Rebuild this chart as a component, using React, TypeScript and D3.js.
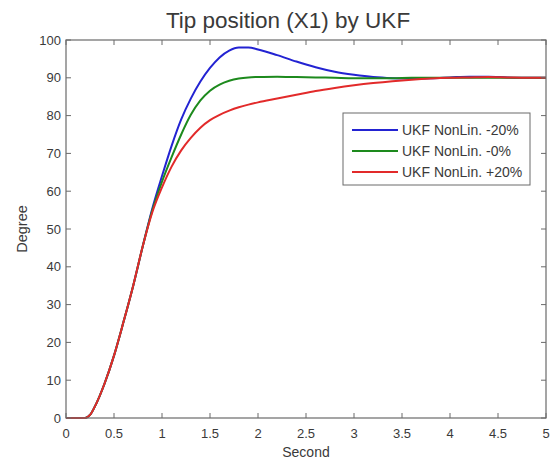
import React from "react";
import * as d3 from "d3";

const times = [0, 0.1, 0.2, 0.25, 0.3, 0.4, 0.5, 0.6, 0.7, 0.8, 0.9, 1.0, 1.1, 1.2, 1.3, 1.4, 1.5, 1.6, 1.7, 1.8, 1.9, 2.0, 2.2, 2.4, 2.6, 2.8, 3.0, 3.2, 3.4, 3.6, 3.8, 4.0, 4.2, 4.4, 4.6, 4.8, 5.0];

const blueMinus20 = [0, 0, 0, 0.8, 3, 9, 16.5, 25.5, 35, 45.5, 55.5, 64, 72, 79, 84.5, 89, 92.6, 95.4, 97.2, 98.0, 98.0, 97.5, 96.0, 94.3, 92.8, 91.6, 90.8, 90.2, 89.9, 89.8, 89.9, 90.1, 90.3, 90.3, 90.1, 90.0, 90.0];
const green0 = [0, 0, 0, 0.8, 3, 9, 16.5, 25.5, 35, 45.5, 55, 62.5, 69, 75, 80.2, 84, 86.6, 88.2, 89.2, 89.8, 90.1, 90.2, 90.3, 90.2, 90.1, 90.0, 89.9, 89.9, 89.9, 90.0, 90.0, 90.0, 90.0, 90.0, 90.0, 90.0, 90.0];
const redPlus20 = [0, 0, 0, 0.8, 3, 9, 16.5, 25.5, 35, 45.5, 54.5, 61, 66.5, 70.8, 74.1, 76.8, 78.8, 80.2, 81.3, 82.2, 82.9, 83.5, 84.5, 85.5, 86.5, 87.3, 88.0, 88.6, 89.1, 89.5, 89.8, 90.0, 90.1, 90.2, 90.1, 90.0, 90.0];

const xTicks = [0, 0.5, 1, 1.5, 2, 2.5, 3, 3.5, 4, 4.5, 5];
const yTicks = [0, 10, 20, 30, 40, 50, 60, 70, 80, 90, 100];

const seriesNames = ["UKF NonLin. -20%", "UKF NonLin. -0%", "UKF NonLin. +20%"];
const seriesColors = ["#2323d2", "#1d8a1d", "#e22a2a"];
const seriesValues = [blueMinus20, green0, redPlus20];

const titleText = "Tip position (X1) by UKF";
const xLabel = "Second";
const yLabel = "Degree";

export default function App() {
  const W = 556, H = 465;
  const left = 66, right = 546, top = 40, bottom = 418;
  const x = d3.scaleLinear().domain([0, 5]).range([left, right]);
  const y = d3.scaleLinear().domain([0, 100]).range([bottom, top]);
  const line = d3.line<number>()
    .x((_, i) => x(times[i]))
    .y((d) => y(d))
    .curve(d3.curveMonotoneX);
  const font = "'Liberation Sans', Arial, sans-serif";
  const axisColor = "#6a6a6a";
  const textColor = "#3a3a3a";
  const tl = 5;
  const legX = 343, legY = 113, legW = 187, legH = 72;
  return (
    <svg width={W} height={H} style={{ position: "absolute", left: 0, top: 0, background: "#fff" }} fontFamily={font}>
      <rect x={0} y={0} width={W} height={H} fill="#fff" />
      <text x={288} y={28} textAnchor="middle" fontSize={22.5} fill={textColor}>{titleText}</text>
      {seriesValues.map((vals, k) => (
        <path key={k} d={line(vals) || ""} fill="none" stroke={seriesColors[k]} strokeWidth={2} />
      ))}
      <rect x={left} y={top} width={right - left} height={bottom - top} fill="none" stroke={axisColor} strokeWidth={1.2} />
      {xTicks.map((t) => (
        <g key={"x" + t}>
          <line x1={x(t)} x2={x(t)} y1={bottom} y2={bottom - tl} stroke={axisColor} />
          <line x1={x(t)} x2={x(t)} y1={top} y2={top + tl} stroke={axisColor} />
          <text x={x(t)} y={bottom + 20} textAnchor="middle" fontSize={13} fill={textColor}>{t}</text>
        </g>
      ))}
      {yTicks.map((v) => (
        <g key={"y" + v}>
          <line x1={left} x2={left + tl} y1={y(v)} y2={y(v)} stroke={axisColor} />
          <line x1={right} x2={right - tl} y1={y(v)} y2={y(v)} stroke={axisColor} />
          <text x={left - 5} y={y(v) + 4.5} textAnchor="end" fontSize={13} fill={textColor}>{v}</text>
        </g>
      ))}
      <text x={306} y={457} textAnchor="middle" fontSize={14} fill={textColor}>{xLabel}</text>
      <text transform={`translate(27,${(top + bottom) / 2}) rotate(-90)`} textAnchor="middle" fontSize={14.5} fill={textColor}>{yLabel}</text>
      <rect x={legX} y={legY} width={legW} height={legH} fill="#fff" stroke={axisColor} strokeWidth={1} />
      {seriesNames.map((n, k) => (
        <g key={n}>
          <line x1={legX + 9} x2={legX + 55} y1={legY + 17 + k * 21} y2={legY + 17 + k * 21} stroke={seriesColors[k]} strokeWidth={2} />
          <text x={legX + 59} y={legY + 22 + k * 21} fontSize={14} fill={textColor}>{n}</text>
        </g>
      ))}
    </svg>
  );
}
